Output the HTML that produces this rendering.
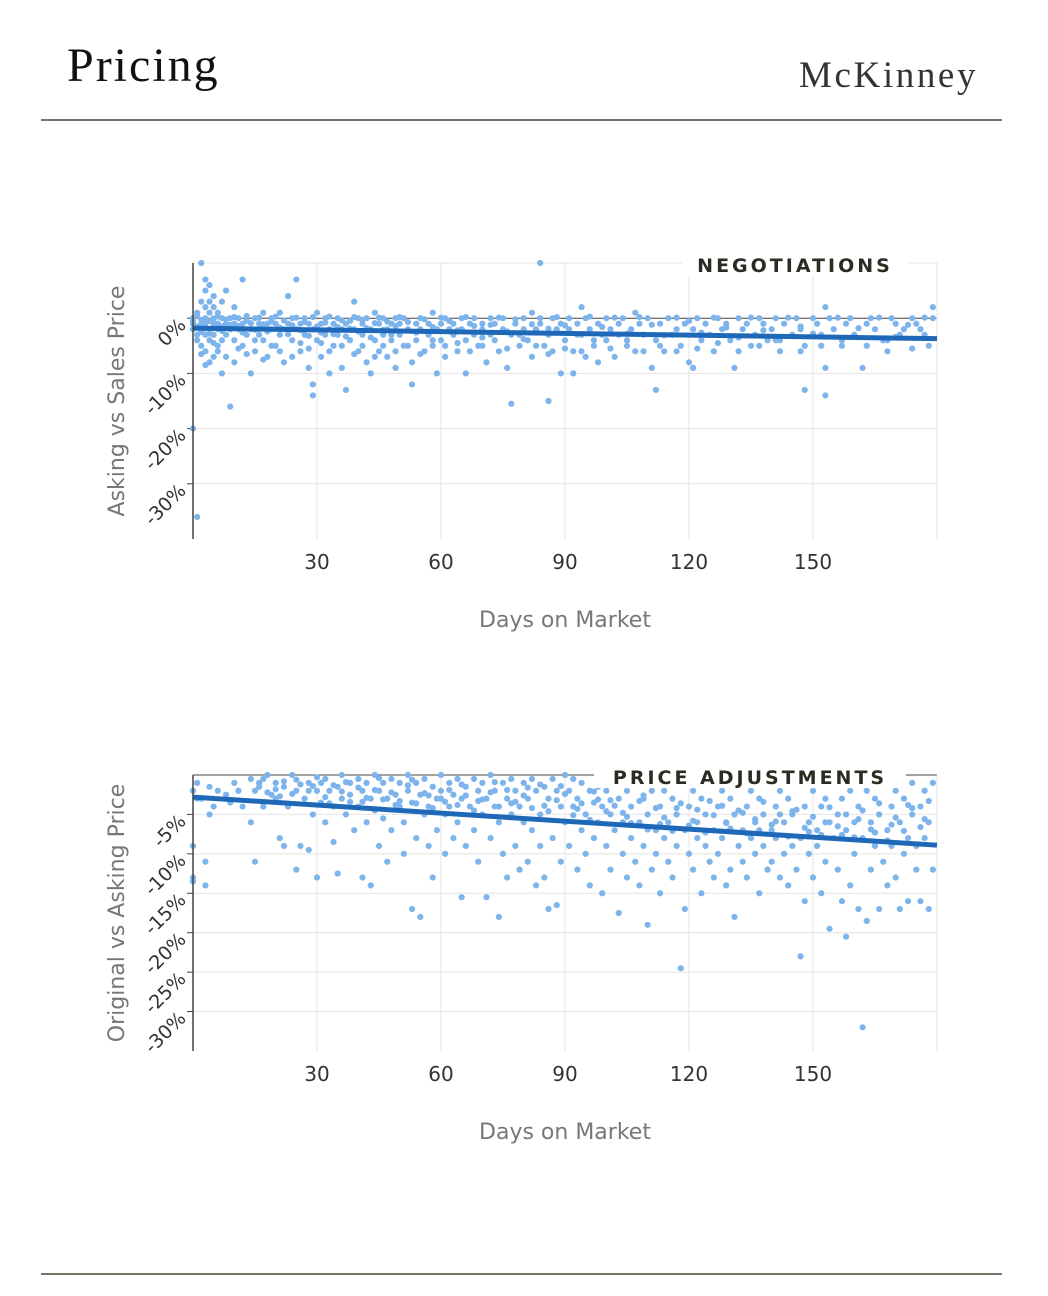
<!DOCTYPE html>
<html><head><meta charset="utf-8"><style>
body{margin:0;background:#fff;width:1048px;height:1296px;position:relative;overflow:hidden;font-family:"DejaVu Sans","Liberation Sans",sans-serif}
.h{position:absolute;font-family:"Liberation Serif",serif;color:#111}
.rule{position:absolute;left:41px;width:961px;height:2px;background:#77756a}
</style></head><body>
<div class="h" style="left:67px;top:38px;font-size:48px;letter-spacing:2px">Pricing</div>
<div class="h" style="left:799px;top:54px;font-size:37px;color:#333;letter-spacing:2.6px">McKinney</div>
<div class="rule" style="top:119px"></div>
<div class="rule" style="top:1273px"></div>
<svg id="svg" width="1048" height="1296" style="position:absolute;left:0;top:0"></svg>
<script>
const xTicks=[30,60,90,120,150];
const yTicks1=[0,-10,-20,-30];
const yTickLabels1=["0%","-10%","-20%","-30%"];
const yTicks2=[-5,-10,-15,-20,-25,-30];
const yTickLabels2=["-5%","-10%","-15%","-20%","-25%","-30%"];
const trend1=[[0,-1.8],[180,-3.7]];
const trend2=[[0,-2.8],[180,-8.9]];
const pts1=[[0,0],[0,-1],[0,-2],[0,-0.5],[0,-20],[1,-36],[1,1],[1,-1.5],[1,-3],[2,10],[2,3],[2,-1],[2,-2.5],[2,-5],[3,7],[3,5],[3,2],[3,0],[3,-1],[3,-3],[3,-6],[4,6],[4,3],[4,1],[4,-0.5],[4,-2],[4,-4],[4,-8],[5,4],[5,2],[5,0],[5,-1],[5,-3],[5,-7],[6,1],[6,-1],[6,-2],[6,-5],[7,3],[7,0],[7,-1.5],[7,-4],[7,-10],[8,5],[8,-1],[8,-3],[9,-16],[9,-2],[9,0],[10,2],[10,-1],[10,-4],[10,-8],[11,0],[11,-2],[12,7],[12,-1],[12,-5],[13,-3],[13,-0.5],[14,-10],[14,-2],[15,0],[15,-6],[16,-1],[16,-3],[17,1],[17,-4],[18,-1],[18,-7],[19,-2],[19,0],[20,-5],[20,-1],[21,1],[21,-3],[22,-2],[22,-8],[23,4],[23,-1],[24,-4],[24,0],[25,7],[25,-2],[26,-1],[26,-6],[27,-3],[27,0],[28,-1],[28,-9],[29,-12],[29,-14],[29,-2],[30,1],[30,-4],[31,-1],[31,-7],[32,-3],[32,0],[33,-2],[33,-10],[34,-1],[34,-5],[35,-3],[35,0],[36,-9],[36,-2],[37,-13],[37,-1],[38,-4],[38,-0.5],[39,3],[39,-2],[40,-6],[40,0],[41,-1],[41,-3],[42,-8],[42,0],[43,-2],[43,-10],[44,1],[44,-4],[45,-1],[45,-6],[46,-3],[46,0],[47,-2],[47,-7],[48,-1],[48,-4],[49,0],[49,-9],[50,-3],[50,-1],[51,-5],[51,0],[52,-2],[53,-8],[53,-12],[54,-1],[54,-4],[55,0],[55,-2],[56,-6],[57,-1],[57,-3],[58,1],[58,-5],[59,-2],[59,-10],[60,-1],[60,-4],[61,0],[61,-7],[62,-2],[63,-3],[63,-1],[64,-6],[65,-2],[65,0],[66,-10],[66,-4],[67,-1],[68,-3],[68,0],[69,-5],[70,-2],[70,-1],[71,-8],[72,0],[72,-3],[73,-1],[74,-6],[75,-2],[75,0],[76,-9],[77,-15.5],[77,-3],[78,-1],[79,-5],[80,0],[80,-2],[81,-4],[82,1],[82,-7],[83,-2],[84,10],[84,-1],[85,-5],[86,-15],[86,-3],[87,0],[87,-6],[88,-2],[89,-10],[89,-1],[90,-4],[91,0],[91,-2],[92,-10],[92,-6],[93,-1],[94,2],[94,-3],[95,-7],[95,0],[96,-2],[97,-5],[98,-1],[98,-8],[99,-3],[100,0],[100,-4],[101,-2],[102,-7],[103,-1],[103,-3],[104,0],[105,-5],[106,-2],[107,1],[107,-6],[108,-1],[109,-3],[110,0],[111,-9],[112,-4],[112,-13],[113,-1],[114,-6],[115,0],[116,-3],[117,-2],[118,-5],[119,-1],[120,-8],[121,-9],[121,-2],[122,0],[123,-4],[124,-1],[125,-3],[126,-6],[127,0],[128,-2],[129,-1],[130,-4],[131,-9],[132,0],[133,-2],[134,-1],[135,-5],[136,-3],[137,0],[138,-1],[139,-4],[140,-2],[141,0],[142,-6],[143,-1],[145,-3],[146,0],[147,-2],[148,-13],[148,-5],[150,0],[151,-1],[152,-3],[153,-9],[153,-14],[153,2],[154,0],[155,-2],[157,-5],[158,-1],[159,0],[160,-3],[162,-9],[163,-1],[164,0],[165,-2],[167,-4],[168,-6],[169,0],[170,-1],[171,-3],[172,-2],[174,0],[175,-1],[176,-2],[177,-3],[178,-5],[179,2],[179,0],
[1,0.5],[2,-0.3],[3,-1.8],[4,-2.8],[5,-0.8],[6,0.3],[7,-2.3],[8,-0.2],[9,-1.2],[10,0.2],[11,-1.4],[12,-2.6],[13,0.4],[14,-0.9],[15,-2.1],[16,0.1],[17,-1.1],[18,-2.4],[19,-0.6],[20,0.3],[21,-1.7],[22,-0.4],[23,-2.9],[24,-1.3],[25,0.1],[26,-2.2],[27,-0.7],[28,-3.2],[29,0.2],[30,-1.5],[31,-2.6],[32,-0.8],[33,0.3],[34,-2.9],[35,-1.6],[36,-0.4],[37,-3.3],[38,-1.9],[39,0.2],[40,-2.4],[41,-0.3],[42,-1.8],[43,-3.5],[44,-0.9],[45,0.1],[46,-2.1],[47,-0.6],[48,-3],[49,-1.4],[50,0.2],[52,-0.7],[54,-2.6],[56,-0.2],[58,-1.6],[60,0.1],[62,-0.5],[64,-2.2],[66,0.2],[68,-1.4],[70,-3.5],[72,-1.2],[74,0.1],[76,-2.4],[78,-0.2],[80,-3.8],[82,-1.1],[84,0],[86,-1.9],[88,0.2],[90,-1.3],[93,-3],[96,0.3],[99,-1.6],[102,0.1],[105,-2.8],[108,0.2],[111,-1.2],[114,-3.1],[117,0.1],[120,-0.5],[123,-2.6],[126,0.1],[129,-1.7],[132,-3.5],[135,0.1],[138,-2.2],[141,-4],[144,0.1],[147,-1.5],[150,-2.8],[156,0.1],[161,-1.8],[166,0.1],[170,-3.4],[173,-1.2],[177,0.1],
[1,-4],[2,-6.5],[3,-8.5],[5,-4.5],[6,-6],[8,-7],[11,-5.5],[13,-6.5],[15,-4],[17,-7.5],[19,-5],[21,-6],[24,-7],[26,-4.5],[28,-5.5],[31,-4.5],[33,-6],[36,-5],[39,-6.5],[41,-5],[44,-7],[46,-5],[49,-6],[52,-5],[55,-6.5],[58,-4],[61,-5],[64,-4.5],[67,-6],[70,-5],[73,-4],[76,-5.5],[79,-3],[83,-5],[86,-6.5],[90,-5.5],[94,-6],[97,-4],[101,-5.5],[105,-4],[109,-6],[113,-5],[117,-6],[122,-5.5],[127,-4.5],[132,-6],[137,-5],[142,-4],[147,-6],[152,-5],[157,-4],[163,-5],[168,-4],[174,-5.5]];
const pts2=[[0,-2],[0,-9],[0,-13],[0,-13.5],[1,-1],[1,-3],[2,-3],[3,-11],[3,-14],[4,-5],[4,-1.5],[5,-4],[6,-2],[8,-2.5],[9,-3.5],[10,-1],[11,-2],[12,-4],[14,-0.5],[14,-6],[15,-2],[15,-11],[16,-1.5],[17,-4],[18,0],[19,-2.5],[20,-1],[20,-3],[21,-8],[22,-1.5],[22,-9],[23,-4],[24,0],[25,-2],[25,-12],[26,-9],[27,-3],[28,-1],[28,-9.5],[29,-5],[30,-2],[30,-13],[31,-1],[31,-3.5],[32,-0.5],[32,-6],[33,-2],[34,-4],[34,-8.5],[35,-1.5],[35,-12.5],[36,0],[36,-3],[37,-5],[38,-1],[38,-2.5],[39,-7],[40,-0.5],[40,-4],[41,-2],[41,-13],[42,-1],[42,-6],[43,-3],[43,-14],[44,0],[44,-4.5],[45,-2],[45,-9],[46,-1],[46,-5.5],[47,-3],[47,-11],[48,-0.5],[48,-7],[49,-2.5],[50,-1],[50,-4],[51,-6],[51,-10],[52,0],[52,-2],[53,-3.5],[53,-17],[54,-1],[54,-8],[55,-2.5],[55,-18],[56,-0.5],[56,-5],[57,-4],[57,-9],[58,-1.5],[58,-13],[59,-3],[59,-7],[60,0],[60,-2],[61,-5],[61,-10],[62,-1],[62,-4],[63,-2.5],[63,-8],[64,-0.5],[64,-6],[65,-3],[65,-15.5],[66,-1.5],[66,-9],[67,-4],[68,-0.5],[68,-7],[69,-2],[69,-11],[70,-1],[70,-5],[71,-3],[71,-15.5],[72,0],[72,-8],[73,-2],[73,-4],[74,-6],[74,-18],[75,-1],[75,-10],[76,-3],[76,-13],[77,-0.5],[77,-5],[78,-2],[78,-9],[79,-4],[79,-12],[80,-1],[80,-6],[81,-3],[81,-11],[82,-0.5],[82,-7],[83,-2],[83,-14],[84,-5],[84,-9],[85,-1.5],[85,-13],[86,-3],[86,-17],[87,-0.5],[87,-8],[88,-2],[88,-16.5],[89,-4],[89,-11],[90,0],[90,-6],[91,-2],[91,-9],[92,-0.5],[92,-4],[93,-3],[93,-12],[94,-1],[94,-7],[95,-5],[95,-10],[96,-2],[96,-14],[97,-3.5],[97,-8],[98,-1.5],[98,-6],[99,-4],[99,-15],[100,-2],[100,-9],[101,-5],[101,-12],[102,-1],[102,-7],[103,-3],[103,-17.5],[104,-6],[104,-10],[105,-2],[105,-13],[106,-4],[106,-8],[107,-1],[107,-11],[108,-6],[108,-14],[109,-3],[109,-9],[110,-5],[110,-19],[111,-2],[111,-12],[112,-7],[112,-10],[113,-4],[113,-15],[114,-2],[114,-8],[115,-6],[115,-11],[116,-3],[116,-13],[117,-5],[117,-9],[118,-1],[118,-24.5],[119,-7],[119,-17],[120,-4],[120,-10],[121,-2],[121,-12],[122,-6],[122,-8],[123,-3],[123,-15],[124,-5],[124,-9],[125,-1],[125,-11],[126,-7],[126,-13],[127,-4],[127,-10],[128,-2],[128,-8],[129,-6],[129,-14],[130,-3],[130,-12],[131,-5],[131,-18],[132,-1],[132,-9],[133,-7],[133,-11],[134,-4],[134,-13],[135,-2],[135,-8],[136,-6],[136,-10],[137,-3],[137,-15],[138,-5],[138,-9],[139,-1],[139,-12],[140,-7],[140,-11],[141,-4],[141,-8],[142,-2],[142,-13],[143,-6],[143,-10],[144,-3],[144,-14],[145,-5],[145,-9],[146,-1],[146,-12],[147,-8],[147,-23],[148,-4],[148,-16],[149,-6],[149,-10],[150,-2],[150,-13],[151,-7],[151,-9],[152,-4],[152,-15],[153,-3],[153,-11],[154,-6],[154,-19.5],[155,-1],[155,-8],[156,-5],[156,-12],[157,-3],[157,-16],[158,-7],[158,-20.5],[159,-2],[159,-14],[160,-6],[160,-10],[161,-4],[161,-17],[162,-8],[162,-32],[163,-2],[163,-18.5],[164,-6],[164,-12],[165,-3],[165,-9],[166,-5],[166,-17],[167,-1],[167,-11],[168,-7],[168,-14],[169,-4],[169,-9],[170,-2],[170,-13],[171,-6],[171,-17],[172,-3],[172,-10],[173,-8],[173,-16],[174,-1],[174,-5],[175,-9],[175,-12],[176,-4],[176,-16],[177,-2],[177,-8],[178,-6],[178,-17],[179,-1],[179,-12],
[16,-1],[18,-2.2],[20,-1.8],[22,-0.8],[24,-2.4],[26,-1.2],[28,-2],[30,-0.3],[32,-2.8],[34,-1.3],[36,-2.1],[38,-3.4],[40,-1.6],[42,-2.9],[44,-1.9],[46,-3.1],[48,-2.2],[50,-3.3],[52,-1.3],[54,-3.6],[56,-2.3],[58,-4.2],[60,-3],[62,-1.9],[64,-3.8],[66,-2.6],[68,-4.5],[70,-3.1],[72,-2.2],[74,-4],[76,-1.9],[78,-3.4],[80,-2.6],[82,-4.2],[84,-1.2],[86,-4.6],[88,-3.2],[90,-2.4],[92,-5.1],[94,-3.6],[96,-5.7],[98,-3.1],[100,-4.6],[102,-3.9],[104,-4.8],[106,-6.1],[108,-3.3],[110,-6.9],[112,-4.2],[114,-5.4],[116,-7.1],[118,-3.6],[120,-6.4],[122,-4.4],[124,-7.3],[126,-5.1],[128,-3.9],[130,-6.8],[132,-4.5],[134,-7.4],[136,-5.6],[138,-3.4],[140,-6.3],[142,-5],[144,-7.8],[146,-4.4],[148,-6.7],[150,-5.3],[152,-7.6],[154,-4.1],[156,-6.5],[158,-5],[160,-7.9],[162,-4.5],[164,-6.9],[166,-3.6],[168,-8.3],[170,-5.4],[172,-7.1],[174,-4.2],[176,-6.6],[178,-3.3],
[17,-0.5],[21,-2.7],[25,-0.6],[29,-1.4],[33,-3.6],[37,-0.9],[41,-3.4],[45,-0.4],[49,-3.8],[53,-0.6],[57,-2.6],[61,-3.4],[65,-1.2],[69,-3.3],[73,-0.9],[77,-3.6],[81,-1.6],[85,-3.9],[89,-1.4],[93,-4.3],[97,-2.1],[101,-3.2],[105,-5.3],[109,-2.6],[113,-6.2],[117,-4.2],[121,-5.8],[125,-3.3],[129,-6.1],[133,-4.8],[137,-7],[141,-5.9],[145,-4.6],[149,-7.2],[153,-6],[157,-7.6],[161,-5.6],[165,-7.3],[169,-6.3],[173,-3.8],[177,-5.6]];

const NS='http://www.w3.org/2000/svg';
const svg=document.getElementById('svg');
function mk(tag,attrs,parent){const e=document.createElementNS(NS,tag);for(const k in attrs)e.setAttribute(k,attrs[k]);(parent||svg).appendChild(e);return e;}

function drawChart(cfg){
  const {top,bottom,yMax,yMin,yT,yL,pts,trend,title,yTitle,darkTop,legendX,legendW,legendY}=cfg;
  const L=193,R=937;
  const sx=d=>L+(d/180)*(R-L);
  const sy=v=>top+(yMax-v)/(yMax-yMin)*(bottom-top);
  const g=mk('g',{});
  
  
  xTicks.forEach(t=>{const l=mk('line',{x1:sx(t),x2:sx(t),y1:top,y2:bottom,stroke:'#e4e4e4','stroke-width':1},g);
    
    });
  yT.forEach((t,i)=>{const l=mk('line',{x1:L,x2:R,y1:sy(t),y2:sy(t),stroke:t===0?'#444':'#e4e4e4','stroke-width':1},g);
    
    
    const tk=mk('line',{x1:L-6,x2:L,y1:sy(t),y2:sy(t),stroke:'#444','stroke-width':1},g);
    
    
    const tx=mk('text',{x:0,y:0,transform:`translate(${L-6},${sy(t)+8}) rotate(-45)`,'text-anchor':'end','font-size':19,fill:'#333','font-family':'DejaVu Sans, Liberation Sans, sans-serif'},g);
    tx.textContent=yL[i];
    
    });
  const tb=mk('line',{x1:L,x2:R,y1:top,y2:top,stroke:darkTop?'#444':'#e4e4e4','stroke-width':1},g);
  
  
  const rb=mk('line',{x1:R,x2:R,y1:top,y2:bottom,stroke:'#e4e4e4','stroke-width':1},g);
  
  
  pts.forEach(p=>{const c=mk('circle',{cx:sx(p[0]),cy:sy(p[1]),r:3.1,fill:'#7db4ec'},g);
    
    });
  const lb=mk('rect',{x:legendX,y:legendY,width:legendW,height:22,fill:'#fff'},g);
  
  
  const lt=mk('text',{x:legendX+legendW/2,y:legendY+18,'text-anchor':'middle','font-size':19,'font-weight':'bold','letter-spacing':3,fill:'#2d2a22','font-family':'DejaVu Sans, Liberation Sans, sans-serif'},g);
  lt.textContent=title;
  
  
  const tl=mk('line',{x1:sx(trend[0][0]),y1:sy(trend[0][1]),x2:sx(trend[1][0]),y2:sy(trend[1][1]),stroke:'#1f68b8','stroke-width':5},g);
  
  
  const ax=mk('line',{x1:L,x2:L,y1:top,y2:bottom,stroke:'#444','stroke-width':1.5},g);
  
  
  xTicks.forEach(t=>{const tx=mk('text',{x:sx(t),y:bottom+30,'text-anchor':'middle','font-size':20,fill:'#333','font-family':'DejaVu Sans, Liberation Sans, sans-serif'},g);
    tx.textContent=t;
    
    });
  const xt=mk('text',{x:565,y:bottom+88,'text-anchor':'middle','font-size':22,fill:'#777','font-family':'DejaVu Sans, Liberation Sans, sans-serif'},g);
  xt.textContent='Days on Market';
  
  
  const yt=mk('text',{x:0,y:0,transform:`translate(124,${(top+bottom)/2}) rotate(-90)`,'text-anchor':'middle','font-size':22,fill:'#777','font-family':'DejaVu Sans, Liberation Sans, sans-serif'},g);
  yt.textContent=yTitle;
  
  
}
drawChart({name:'negotiations-chart',top:263,bottom:539,yMax:10,yMin:-40,yT:yTicks1,yL:yTickLabels1,pts:pts1,trend:trend1,title:'NEGOTIATIONS',yTitle:'Asking vs Sales Price',darkTop:false,legendX:682,legendW:226,legendY:254});
drawChart({name:'price-adjustments-chart',top:775,bottom:1051,yMax:0,yMin:-35,yT:yTicks2,yL:yTickLabels2,pts:pts2,trend:trend2,title:'PRICE ADJUSTMENTS',yTitle:'Original vs Asking Price',darkTop:true,legendX:594,legendW:312,legendY:766});
</script>
</body></html>
